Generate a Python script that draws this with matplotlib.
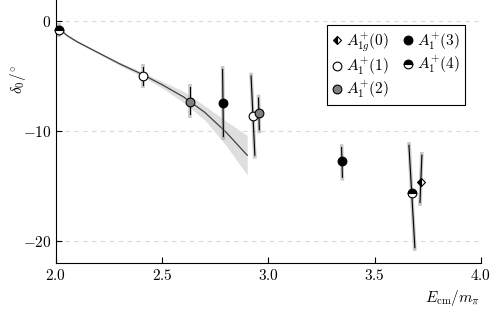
import numpy as np
import matplotlib
matplotlib.use("Agg")
import matplotlib.pyplot as plt
from matplotlib.ticker import FuncFormatter

plt.rcParams['mathtext.fontset'] = 'cm'
plt.rcParams['font.family'] = ['DejaVu Serif']

# fit curve with error band
fit_e = [2.0, 2.05, 2.1, 2.2, 2.3, 2.4, 2.5, 2.6, 2.7, 2.8, 2.9]
fit_d = [-0.4, -1.3, -1.9, -2.9, -3.9, -4.8, -5.8, -6.9, -8.3, -10.1, -12.2]
fit_hi = [-0.3, -1.2, -1.8, -2.8, -3.75, -4.6, -5.5, -6.4, -7.7, -9.1, -10.4]
fit_lo = [-0.5, -1.4, -2.0, -3.0, -4.05, -5.0, -6.1, -7.4, -9.0, -11.3, -14.0]

# levels: label, energy, phase shift, bar top (E, delta), bar bottom (E, delta)
irrep = ["4", "1", "2", "3", "1", "2", "3", "4", "0"]
energy = [2.014, 2.41, 2.63, 2.786, 2.927, 2.955, 3.346, 3.675, 3.718]
delta = [-0.8, -5.0, -7.4, -7.5, -8.6, -8.4, -12.7, -15.6, -14.6]
e_top = [2.014, 2.41, 2.63, 2.784, 2.918, 2.953, 3.344, 3.661, 3.722]
d_top = [-0.5, -4.2, -6.0, -4.4, -5.0, -7.0, -11.5, -11.3, -12.2]
e_bot = [2.014, 2.41, 2.63, 2.788, 2.936, 2.957, 3.348, 3.689, 3.713]
d_bot = [-1.2, -5.8, -8.5, -10.5, -12.2, -9.9, -14.2, -20.6, -16.5]

styles = {
    "0": dict(marker="D", ms=4.5, mfc="black", mfcalt="white", fillstyle="left",
              label=r"$A_{1g}^{+}(0)$"),
    "1": dict(marker="o", ms=6.3, mfc="white", fillstyle="full", label=r"$A_{1}^{+}(1)$"),
    "2": dict(marker="o", ms=6.3, mfc="0.5", fillstyle="full", label=r"$A_{1}^{+}(2)$"),
    "3": dict(marker="o", ms=6.3, mfc="black", fillstyle="full", label=r"$A_{1}^{+}(3)$"),
    "4": dict(marker="o", ms=6.3, mfc="black", mfcalt="white", fillstyle="top",
              label=r"$A_{1}^{+}(4)$"),
}

fig = plt.figure(figsize=(4.98, 3.11), dpi=100)
ax = fig.add_axes([0.1124, 0.154, 0.8534, 0.846])

for y in [0, -10, -20]:
    ax.axhline(y, color="0.85", lw=0.8, ls=(0, (4, 4)), zorder=0)

ax.fill_between(fit_e, fit_lo, fit_hi, color="0.87", lw=0, zorder=1)
ax.plot(fit_e, fit_d, color="0.25", lw=0.9, zorder=2)

# sample clouds and error bars
for i in range(len(energy)):
    ax.plot([e_top[i], e_bot[i]], [d_top[i] + 0.3, d_bot[i] - 0.3], color="0.6",
            lw=2.6, alpha=0.55, solid_capstyle="butt", zorder=3)
    ax.plot([e_top[i], e_bot[i]], [d_top[i], d_bot[i]], color="black", lw=0.8, zorder=4)

handles = {}
for i in range(len(energy)):
    st = dict(styles[irrep[i]])
    lab = st.pop("label")
    fs = st.pop("fillstyle")
    mfcalt = st.pop("mfcalt", "white")
    h, = ax.plot(energy[i], delta[i], ls="none", marker=st["marker"], ms=st["ms"],
                 mfc=st["mfc"], mfcalt=mfcalt, fillstyle=fs, mec="black", mew=0.8,
                 zorder=5, clip_on=False)
    if lab not in handles:
        handles[lab] = h

order = [styles[k]["label"] for k in ["0", "1", "2", "3", "4"]]
leg = ax.legend([handles[k] for k in order], order, ncol=2, loc="upper right",
                bbox_to_anchor=(0.962, 0.905), borderaxespad=0, fancybox=False,
                framealpha=1, edgecolor="black", fontsize=11, handlelength=0.6,
                handletextpad=0.3, columnspacing=0.9, labelspacing=0.12, borderpad=0.35)
leg.get_frame().set_linewidth(0.8)

ax.set_xlim(2.0, 4.0)
ax.set_ylim(-22, 1.9)
ax.set_xticks([2.0, 2.5, 3.0, 3.5, 4.0])
ax.set_yticks([0, -10, -20])
ax.xaxis.set_major_formatter(FuncFormatter(lambda v, p: f"${v:.1f}$"))
ax.yaxis.set_major_formatter(FuncFormatter(lambda v, p: f"${v:.0f}$"))
ax.tick_params(direction="in", length=4, width=0.8, labelsize=11)
ax.spines["top"].set_visible(False)
ax.spines["right"].set_visible(False)

ax.set_xlabel(r"$E_{\rm cm}/m_{\pi}$", fontsize=11, va="center")
ax.set_ylabel(r"$\delta_0/^{\circ}$", fontsize=11, va="center")
ax.xaxis.set_label_coords(0.932, -0.133)
ax.yaxis.set_label_coords(-0.089, 0.70)

fig.savefig("out.png", dpi=100)
